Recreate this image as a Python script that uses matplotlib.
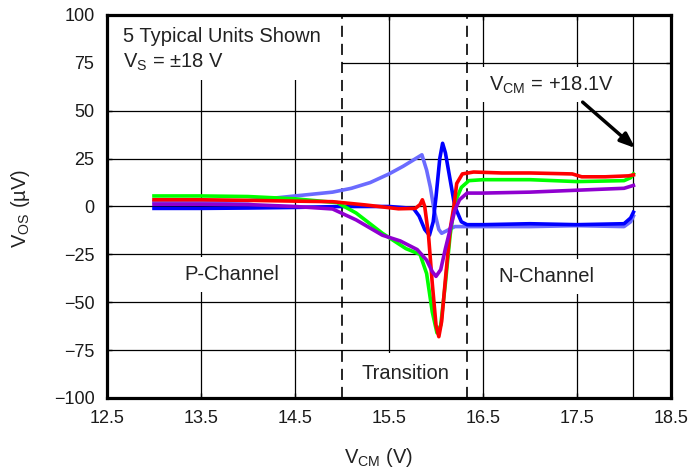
import matplotlib
matplotlib.use("Agg")
import matplotlib.pyplot as plt
from matplotlib.patches import Rectangle

plt.rcParams['font.family'] = ['Liberation Sans', 'DejaVu Sans']
plt.rcParams['mathtext.fontset'] = 'custom'
plt.rcParams['mathtext.rm'] = 'Liberation Sans'
plt.rcParams['mathtext.it'] = 'Liberation Sans:italic'
plt.rcParams['lines.scale_dashes'] = False

# Offset voltage vs common-mode voltage, five units (V_CM in V, V_OS in uV)
lightblue_x = [13.0, 13.5, 14.0, 14.3, 14.6, 14.9, 15.1, 15.3, 15.5, 15.65, 15.75,
               15.85, 15.9, 15.94, 15.98, 16.03, 16.06, 16.12, 16.2, 16.3, 16.5,
               17.0, 17.5, 18.0, 18.07, 18.1]
lightblue_y = [2.5, 2.5, 3.0, 4.5, 6.0, 7.5, 9.5, 12.5, 17.0, 21.0, 24.0,
               27.0, 19.0, 10.0, -2.0, -12.0, -14.0, -12.5, -10.5, -10.5, -10.5,
               -10.5, -10.0, -10.5, -8.0, -5.0]

blue_x = [13.0, 13.5, 14.0, 14.5, 15.0, 15.5, 15.76, 15.82, 15.88, 15.93, 15.97,
          16.0, 16.04, 16.07, 16.1, 16.15, 16.2, 16.27, 16.33, 16.5, 17.0,
          17.5, 18.0, 18.07, 18.1]
blue_y = [-1.0, -1.0, -0.8, -0.5, 0.0, 0.0, -1.0, -5.0, -12.0, -15.0, -8.0,
          5.0, 25.0, 33.0, 28.0, 14.0, 0.0, -8.0, -9.5, -9.5, -9.0,
          -9.5, -9.0, -6.0, -3.0]

green_x = [13.0, 13.5, 14.0, 14.5, 14.95, 15.15, 15.43, 15.68, 15.83, 15.9, 15.96,
           16.01, 16.05, 16.1, 16.15, 16.2, 16.27, 16.35, 16.5, 17.0, 17.5,
           18.0, 18.07, 18.1]
green_y = [5.5, 5.5, 5.2, 4.0, 2.0, -3.4, -14.0, -22.0, -25.0, -35.0, -55.0,
           -66.0, -62.0, -40.0, -15.0, 2.0, 10.0, 13.5, 14.0, 14.0, 13.0,
           13.5, 15.0, 17.0]

red_x = [13.0, 13.5, 14.0, 14.5, 14.9, 15.25, 15.6, 15.78, 15.83, 15.855, 15.88,
         15.92, 15.96, 16.0, 16.03, 16.06, 16.1, 16.15, 16.19, 16.22, 16.28,
         16.4, 16.7, 17.0, 17.45, 17.55, 17.8, 18.05, 18.1]
red_y = [3.5, 3.5, 3.2, 2.8, 2.5, 0.8, -1.2, -1.0, 1.0, 3.5, 0.0,
         -15.0, -40.0, -62.0, -68.0, -60.0, -38.0, -12.0, 0.0, 12.0, 17.0,
         18.0, 17.5, 17.5, 17.0, 15.5, 15.5, 16.0, 16.5]

purple_x = [13.0, 13.5, 14.0, 14.5, 14.9, 15.15, 15.43, 15.62, 15.8, 15.9, 15.96,
            16.0, 16.05, 16.1, 16.15, 16.2, 16.25, 16.33, 16.5, 17.0, 17.5,
            18.0, 18.1]
purple_y = [1.2, 1.2, 1.0, 0.0, -1.3, -7.0, -15.0, -18.0, -22.5, -28.0, -34.0,
            -36.5, -33.0, -22.0, -12.0, -2.0, 3.5, 7.0, 7.0, 7.5, 8.5,
            9.5, 11.0]

series = [
    (lightblue_x, lightblue_y, '#6b6bff', 2),
    (blue_x, blue_y, '#0000ff', 3),
    (green_x, green_y, '#00ff00', 4),
    (red_x, red_y, '#ff0000', 5),
    (purple_x, purple_y, '#9000d0', 6),
]

region_bounds = [15.0, 16.33]
vcm_max = 18.1

x_ticks = [12.5, 13.5, 14.5, 15.5, 16.5, 17.5, 18.5]
y_ticks = [-100, -75, -50, -25, 0, 25, 50, 75, 100]

fig = plt.figure(figsize=(6.92, 4.73), dpi=100)
ax = fig.add_axes([0.1546, 0.1586, 0.8151, 0.8097])
ax.set_xlim(12.5, 18.5)
ax.set_ylim(-100, 100)
ax.set_xticks(x_ticks)
ax.set_yticks(y_ticks)
ax.set_xticklabels([f"{v:.1f}" for v in x_ticks])
ax.set_yticklabels([str(v).replace('-', '\u2212') for v in y_ticks])

ax.set_axisbelow(True)
ax.grid(True, color='black', linewidth=0.9)
ax.tick_params(direction='in', length=3.5, width=1.0, top=True, right=True,
               labelsize=13, labelcolor='#1a1a1a')
ax.tick_params(axis='x', pad=9)
ax.tick_params(axis='y', pad=9)
for sp in ax.spines.values():
    sp.set_linewidth(2.3)
    sp.set_zorder(10)

# white panels that keep the grid out from behind the annotations
ax.add_patch(Rectangle((12.5, 66), 2.5, 34, facecolor='white', edgecolor='none', zorder=1))
ax.add_patch(Rectangle((15.02, -100), 1.29, 23.5, facecolor='white', edgecolor='none', zorder=1))
ax.add_patch(Rectangle((16.48, 54.6), 1.57, 18.2, facecolor='white', edgecolor='none', zorder=1))

for xb in region_bounds:
    ax.axvline(xb, color='black', linewidth=1.2, dashes=(8, 5), zorder=1.5)
ax.axvline(vcm_max, color='black', linewidth=0.9, zorder=0.6)

for xs, ys, col, z in series:
    ax.plot(xs, ys, color=col, linewidth=2.6, zorder=z, solid_joinstyle='round')

txt = '#222222'
ax.text(12.67, 89, '5 Typical Units Shown', fontsize=14.5, color=txt, va='center', ha='left', zorder=7)
ax.text(12.67, 75.5, r'V$_{\mathrm{S}}$ = ±18 V', fontsize=14.5, color=txt, va='center', ha='left', zorder=7)

label_box = dict(boxstyle='square,pad=0.4', facecolor='white', edgecolor='none')
ax.text(13.83, -35.5, 'P-Channel', fontsize=14.5, color=txt, ha='center', va='center', bbox=label_box, zorder=1.2)
ax.text(17.17, -36.5, 'N-Channel', fontsize=14.5, color=txt, ha='center', va='center', bbox=label_box, zorder=1.2)
ax.text(15.67, -87, 'Transition', fontsize=14.5, color=txt, ha='center', va='center', zorder=7)

ax.text(17.23, 63.0, r'V$_{\mathrm{CM}}$ = +18.1V', fontsize=14.5, color=txt, ha='center', va='center', zorder=7)
ax.annotate('', xy=(18.12, 30.5), xytext=(17.56, 54.5),
            arrowprops=dict(arrowstyle='-|>,head_length=0.9,head_width=0.35',
                            color='black', lw=2.5, shrinkA=0, shrinkB=0),
            zorder=8)

ax.set_xlabel(r'V$_{\mathrm{CM}}$ (V)', fontsize=14.5, color=txt, va='center')
ax.xaxis.set_label_coords(0.481, -0.155)
ax.set_ylabel('V$_{\\mathrm{OS}}$ (\u00b5V)', fontsize=14.5, color=txt, va='center')
ax.yaxis.set_label_coords(-0.153, 0.495)

fig.savefig('out.png', dpi=100)
